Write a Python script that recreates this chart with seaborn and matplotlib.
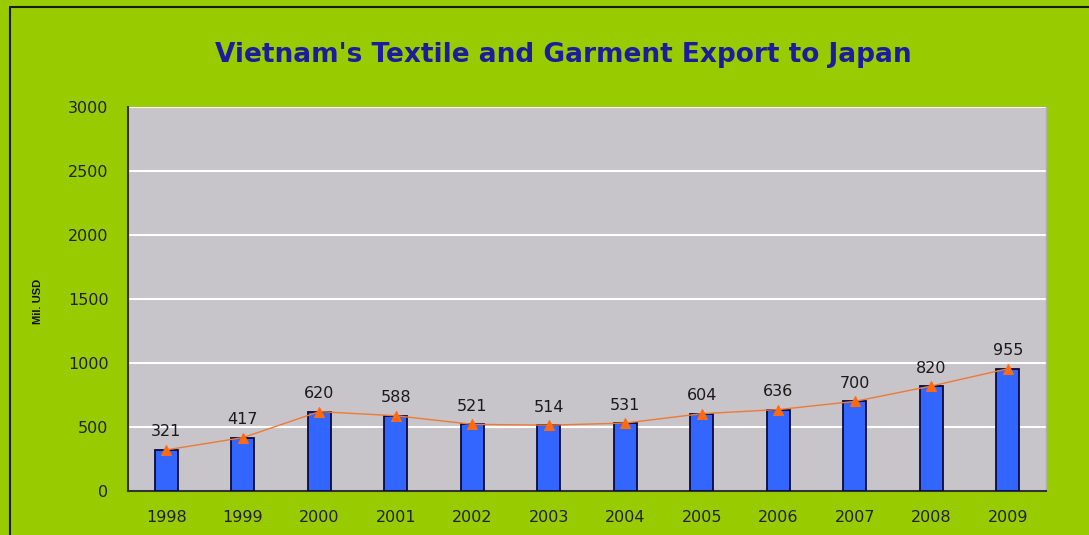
import matplotlib
matplotlib.use("Agg")
import matplotlib.pyplot as plt
import seaborn as sns
import pandas as pd
from matplotlib.lines import Line2D

years = ["1998", "1999", "2000", "2001", "2002", "2003", "2004", "2005", "2006", "2007", "2008", "2009"]
values = [321, 417, 620, 588, 521, 514, 531, 604, 636, 700, 820, 955]
yticks = [0, 500, 1000, 1500, 2000, 2500, 3000]
title = "Vietnam's Textile and Garment Export to Japan"
ylabel = "Mil. USD"

df = pd.DataFrame({"year": years, "value": values})

sns.set_theme(style="white")
plt.rcParams['font.family'] = ['DejaVu Sans']

GREEN = "#99CC00"
GREY = "#C7C4CA"
fig = plt.figure(figsize=(10.89, 5.35), dpi=100, facecolor=GREEN)
ax = fig.add_axes([128/1089, 1 - 491/535, (1046 - 128)/1089, (491 - 107)/535])
ax.set_facecolor(GREY)

# frame lines at top and left of the figure
fig.add_artist(Line2D([10/1089, 10/1089], [0, 1 - 7/535], transform=fig.transFigure, color="#1a1a1a", lw=1.5))
fig.add_artist(Line2D([10/1089, 1], [1 - 7/535, 1 - 7/535], transform=fig.transFigure, color="#1a1a1a", lw=1.5))

sns.barplot(data=df, x="year", y="value", color="#3366FF", width=0.3,
            edgecolor="#0A0A3C", linewidth=1.3, saturation=1, ax=ax, zorder=3)
sns.pointplot(data=df, x="year", y="value", color="#EE7A33", markers="^",
              markersize=6.5, linewidth=1.0, ax=ax, zorder=4)
for line in ax.lines:
    line.set_markerfacecolor("#FF6A10")
    line.set_markeredgecolor("#FF6A10")

for i, v in enumerate(values):
    ax.annotate(str(v), (i, v), xytext=(0, 18), textcoords="offset pixels",
                ha="center", va="center", fontsize=11.5, color="#1a1a1a", zorder=5)

ax.set_ylim(0, 3000)
ax.set_xlim(-0.5, 11.5)
ax.set_yticks(yticks)
ax.set_yticklabels([str(t) for t in yticks], fontsize=11.5, color="#222222")
ax.set_xticks(range(len(years)))
ax.set_xticklabels(years, fontsize=11.5, color="#222222")
ax.set_xticks([i + 0.5 for i in range(-1, len(years))], minor=True)
ax.tick_params(axis="x", which="major", length=0, pad=14)
ax.tick_params(axis="x", which="minor", length=5, width=1.2, color="#333333", direction="out")
ax.tick_params(axis="y", which="major", length=5, width=1.2, color="#333333", direction="out", pad=9)
ax.grid(axis="y", color="white", linewidth=1.5, zorder=0)
ax.set_axisbelow(True)
ax.spines["top"].set_visible(False)
ax.spines["right"].set_color("#AFAFAF")
ax.spines["right"].set_linewidth(1)
for s in ["left", "bottom"]:
    ax.spines[s].set_color("#333333")
    ax.spines[s].set_linewidth(1.5)
ax.set_xlabel("")
ax.set_ylabel("")

fig.text(38/1089, 1 - 301/535, ylabel, rotation=90, ha="center", va="center",
         fontsize=8, fontweight="bold", color="#111111",
         family=["Liberation Sans Narrow", "Liberation Sans", "DejaVu Sans"])
fig.text(563/1089, 1 - 55/535, title, ha="center", va="center", fontsize=19,
         fontweight="bold", color="#1C1C9C")

fig.savefig("out.png", dpi=100, facecolor=GREEN)
